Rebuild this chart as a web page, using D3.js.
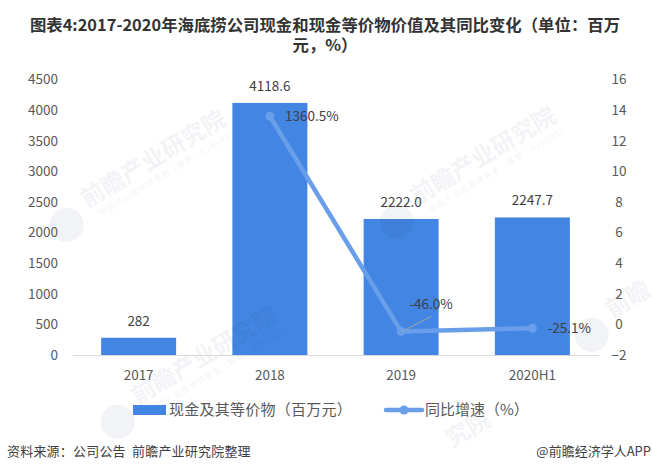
<!DOCTYPE html>
<html><head><meta charset="utf-8">
<script src="https://cdn.jsdelivr.net/npm/d3@7"></script>
<style>html,body{margin:0;padding:0;background:#fff}svg{display:block}text{font-family:"Noto Sans CJK SC","Noto Sans",sans-serif;white-space:pre}</style>
</head><body><svg id="c" width="652" height="472"></svg>
<script>
const categories=["2017","2018","2019","2020H1"];
const cash=[282,4118.6,2222.0,2247.7];
const cashLabels=["282","4118.6","2222.0","2247.7"];
const growth=[null,13.605,-0.46,-0.251];
const growthLabels=[null,"1360.5%","-46.0%","-25.1%"];
const leftTicks=[0,500,1000,1500,2000,2500,3000,3500,4000,4500];
const rightTicks=[-2,0,2,4,6,8,10,12,14,16];
const titleLines=["图表4:2017-2020年海底捞公司现金和现金等价物价值及其同比变化（单位：百万","元，%）"];
const legendNames=["现金及其等价物（百万元）","同比增速（%）"];
const source="资料来源：公司公告  前瞻产业研究院整理";
const brand="@前瞻经济学人APP";
const watermark="前瞻产业研究院";
const watermarkSub="中国产业咨询领导者（股票：839599）";

const svg=d3.select("#c");
const x=d3.scaleBand().domain(categories).range([73,598]);
const yL=d3.scaleLinear().domain([0,4500]).range([355,79.6]);
const yR=d3.scaleLinear().domain([-2,16]).range([355,79.6]);
const blue="#4285e2",lineBlue="#699fea",txt="#595959";

// bars
svg.append("g").selectAll("rect").data(categories).join("rect")
  .attr("x",d=>x(d)+x.bandwidth()/2-37.5).attr("width",75)
  .attr("y",(d,i)=>yL(cash[i])).attr("height",(d,i)=>355-yL(cash[i])).attr("fill",blue);

// watermarks, above the bars
[[87,208],[417,205],[138,405]].forEach(p=>{
  const g=svg.append("g").attr("transform",`translate(${p[0]},${p[1]}) rotate(-31)`).attr("opacity",0.05).attr("fill","#1c3260");
  g.append("text").attr("font-size",23.5).attr("font-weight",700).text(watermark);
  g.append("text").attr("x",8).attr("y",14).attr("font-size",8).attr("letter-spacing",1.1).text(watermarkSub);
  g.append("circle").attr("cx",-26).attr("cy",4).attr("r",17);
});
[[612,318,0,2],[452,448,5,7]].forEach(p=>{
  const g=svg.append("g").attr("transform",`translate(${p[0]},${p[1]}) rotate(-31)`).attr("opacity",0.05).attr("fill","#1c3260");
  g.append("text").attr("font-size",23.5).attr("font-weight",700).text(watermark.slice(p[2],p[3]));
  if(p[2]===0) g.append("circle").attr("cx",-26).attr("cy",4).attr("r",17);
});

// axes
const ax=svg.append("g").attr("transform","translate(0,355)").call(d3.axisBottom(x).tickSize(0).tickPadding(15));
ax.select(".domain").attr("stroke","#d9d9d9").attr("stroke-width",1.2);
ax.selectAll("text").attr("font-size",13.5).attr("fill",txt);
const al=svg.append("g").attr("transform","translate(58,0)").call(d3.axisLeft(yL).tickValues(leftTicks).tickFormat(d3.format("d")).tickSize(0).tickPadding(0));
al.select(".domain").remove();
al.selectAll("text").attr("font-size",13.5).attr("fill",txt);
const ar=svg.append("g").attr("transform","translate(612,0)").call(d3.axisRight(yR).tickValues(rightTicks).tickSize(0).tickPadding(0));
ar.select(".domain").remove();
ar.selectAll("text").attr("font-size",13.5).attr("fill",txt).attr("text-anchor","middle").attr("dx",7);

// line
const pts=categories.map((c,i)=>({c,v:growth[i],l:growthLabels[i]})).filter(d=>d.v!==null);
const px=d=>x(d.c)+x.bandwidth()/2;
const line=d3.line().x(px).y(d=>yR(d.v));
svg.append("path").attr("d",line(pts)).attr("fill","none").attr("stroke",lineBlue).attr("stroke-width",4.5).attr("stroke-linejoin","round");
svg.append("g").selectAll("circle").data(pts).join("circle").attr("cx",px).attr("cy",d=>yR(d.v)).attr("r",4.5).attr("fill",lineBlue);

// leader
const p19=pts[1];
svg.append("line").attr("x1",px(p19)+1).attr("y1",yR(p19.v)).attr("x2",px(p19)+30).attr("y2",yR(p19.v)-15).attr("stroke","#a6a6a6").attr("stroke-width",1);

// labels
const lab=svg.append("g").attr("font-size",13.5).attr("fill","#404040");
categories.forEach((c,i)=>{
  lab.append("text").attr("x",x(c)+x.bandwidth()/2).attr("y",yL(cash[i])-12).attr("text-anchor","middle").text(cashLabels[i]);
});
const off=[[42,5],[30,-22],[37,5]];
pts.forEach((d,i)=>{
  lab.append("text").attr("x",px(d)+off[i][0]).attr("y",yR(d.v)+off[i][1]).attr("text-anchor","middle").text(d.l);
});

// title
svg.append("g").selectAll("text").data(titleLines).join("text")
  .attr("x",325).attr("y",(d,i)=>31+i*20).attr("text-anchor","middle")
  .attr("font-size",16.4).attr("font-weight",700).attr("fill","#333").text(d=>d);

// legend
svg.append("rect").attr("x",133).attr("y",405).attr("width",33).attr("height",10).attr("fill",blue);
svg.append("text").attr("x",169).attr("y",415).attr("font-size",15).attr("letter-spacing",0.25).attr("fill",txt).text(legendNames[0]);
svg.append("line").attr("x1",386).attr("x2",422).attr("y1",410).attr("y2",410).attr("stroke",lineBlue).attr("stroke-width",4.5).attr("stroke-linecap","round");
svg.append("circle").attr("cx",404).attr("cy",410).attr("r",4.5).attr("fill",lineBlue);
svg.append("text").attr("x",425).attr("y",415).attr("font-size",15).attr("fill",txt).text(legendNames[1]);

// footer
svg.append("text").attr("x",7).attr("y",456).attr("font-size",13).attr("letter-spacing",0.2).attr("fill","#404040").text(source);
svg.append("text").attr("x",651).attr("y",456).attr("text-anchor","end").attr("font-size",13).attr("fill","#404040").text(brand);
</script></body></html>
